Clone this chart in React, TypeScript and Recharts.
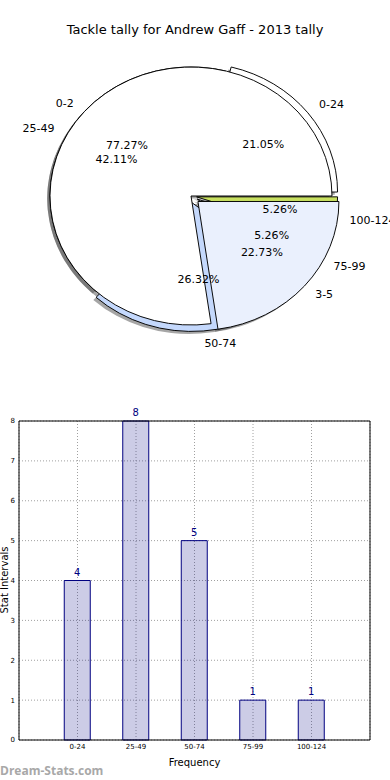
import React from 'react';
import {
  PieChart, Pie, Cell, Sector,
  BarChart, Bar, XAxis, YAxis, CartesianGrid, ReferenceLine, LabelList,
} from 'recharts';

// values
const title = 'Tackle tally for Andrew Gaff - 2013 tally';
const bins = ['0-24', '25-49', '50-74', '75-99', '100-124'];
const binCounts = [4, 8, 5, 1, 1];
const tallyGroups = ['0-2', '3-5'];
const tallyCounts = [17, 5];
const yTicks = [0, 1, 2, 3, 4, 5, 6, 7, 8];

const font = '"DejaVu Sans", sans-serif';
const RAD = Math.PI / 180;
const SY = 129 / 141; // the pie is a bit squashed vertically

const binColors = ['#ffffff', '#ffffff', '#c4d8fc', '#eaf0fd', '#c8e060'];
const tallyColors = ['#ffffff', '#eaf0fd'];
// how far each wedge is pulled out, as a share of the radius
const explode: Record<string, number> = {
  '0-24': 0.05, '25-49': 0, '50-74': 0.05, '75-99': 0.05, '100-124': 0.04,
  '0-2': 0, '3-5': 0.065,
};

const binData = bins.map((name, i) => ({ name, value: binCounts[i] }));
const tallyData = tallyGroups.map((name, i) => ({ name, value: tallyCounts[i] }));
const barData = bins.map((label, i) => ({ x: i + 1, label, value: binCounts[i] }));

const shift = (name: string, mid: number, r: number) => {
  const d = (explode[name] ?? 0) * r;
  return { ox: d * Math.cos(mid * RAD), oy: -d * Math.sin(mid * RAD) * SY };
};

const wedge = (shadow: boolean) => (props: any) => {
  const { cx, cy, outerRadius, startAngle, endAngle, midAngle, fill } = props;
  const name = props.payload?.name ?? props.name;
  const { ox, oy } = shift(name, midAngle, outerRadius);
  const dx = ox + (shadow ? -2.8 : 0);
  const dy = oy + (shadow ? 2.6 : 0);
  return (
    <g transform={`translate(${cx + dx} ${cy + dy}) scale(1 ${SY}) translate(${-cx} ${-cy})`}>
      <Sector
        cx={cx} cy={cy} innerRadius={0} outerRadius={outerRadius}
        startAngle={startAngle} endAngle={endAngle}
        fill={shadow ? '#4d4d4d' : fill}
        fillOpacity={shadow ? 0.5 : 1}
        stroke={shadow ? 'none' : '#000'}
        strokeWidth={shadow ? 0 : 1}
      />
    </g>
  );
};

const pieLabel = (props: any) => {
  const { cx, cy, midAngle, outerRadius, percent } = props;
  const name = props.payload?.name ?? props.name;
  const { ox, oy } = shift(name, midAngle, outerRadius);
  const c = Math.cos(midAngle * RAD);
  const s = Math.sin(midAngle * RAD);
  const lx = cx + ox + 1.1 * outerRadius * c;
  const ly = cy + oy - 1.1 * outerRadius * s * SY;
  const px = cx + ox + 0.6 * outerRadius * c;
  const py = cy + oy - 0.6 * outerRadius * s * SY;
  return (
    <g fontFamily={font} fontSize={11} fill="#000">
      <text x={lx} y={ly} textAnchor={c > 0 ? 'start' : 'end'} dominantBaseline="central">{name}</text>
      <text x={px} y={py} textAnchor="middle" dominantBaseline="central">{(percent * 100).toFixed(2)}%</text>
    </g>
  );
};

const pieProps = {
  cx: 191, cy: 196, outerRadius: 141, startAngle: 0, endAngle: 360,
  dataKey: 'value', nameKey: 'name', isAnimationActive: false, labelLine: false,
};

const App = () => {
  return (
    <div style={{ position: 'absolute', left: 0, top: 0, width: 390, height: 780, background: '#fff', fontFamily: font }}>
      <div style={{ position: 'absolute', top: 22, width: 390, textAlign: 'center', fontSize: 13, lineHeight: '16px', color: '#000' }}>
        {title}
      </div>
      <div style={{ position: 'absolute', top: 0, left: 0 }}>
        <PieChart width={390} height={370} margin={{ top: 0, right: 0, bottom: 0, left: 0 }}>
          <Pie {...pieProps} data={binData} shape={wedge(true)} label={false} />
          <Pie {...pieProps} data={tallyData} shape={wedge(true)} label={false} />
          <Pie {...pieProps} data={binData} shape={wedge(false)} label={false}>
            {binData.map((d, i) => <Cell key={d.name} fill={binColors[i]} />)}
          </Pie>
          <Pie {...pieProps} data={tallyData} shape={wedge(false)} label={false}>
            {tallyData.map((d, i) => <Cell key={d.name} fill={tallyColors[i]} />)}
          </Pie>
          <Pie {...pieProps} data={binData} shape={() => <g />} label={pieLabel} />
          <Pie {...pieProps} data={tallyData} shape={() => <g />} label={pieLabel} />
        </PieChart>
      </div>
      <div style={{ position: 'absolute', top: 400, left: 0 }}>
        <BarChart width={390} height={380} data={barData} margin={{ top: 21, right: 20, bottom: 12, left: 0 }}>
          <CartesianGrid stroke="#a0a0a0" strokeDasharray="1 2" />
          <XAxis
            dataKey="x" type="number" domain={[0, 6]} ticks={[1, 2, 3, 4, 5]} interval={0}
            tickFormatter={(v: number) => bins[v - 1]}
            tick={{ fontSize: 7, fill: '#000', fontFamily: font }}
            tickLine={false} tickSize={0} tickMargin={4} height={28}
            axisLine={{ stroke: '#000' }}
            label={{ value: 'Frequency', position: 'insideBottom', offset: 2, fontSize: 10, fill: '#000', fontFamily: font }}
          />
          <YAxis
            domain={[0, 8]} ticks={yTicks} width={19}
            tick={{ fontSize: 7, fill: '#000', fontFamily: font }}
            tickLine={false} tickSize={0} tickMargin={4}
            axisLine={{ stroke: '#000' }}
            label={{
              content: () => (
                <text x={8} y={180} transform="rotate(-90 8 180)" textAnchor="middle" fontSize={10} fontFamily={font} fill="#000">
                  Stat Intervals
                </text>
              ),
            }}
          />
          <ReferenceLine y={8} stroke="#000" />
          <ReferenceLine x={6} stroke="#000" />
          <Bar dataKey="value" barSize={26} fill="#000080" fillOpacity={0.2} stroke="#000080" isAnimationActive={false}>
            <LabelList dataKey="value" position="top" offset={5} fill="#000080" fontSize={10} fontFamily={font} />
          </Bar>
        </BarChart>
      </div>
      <div style={{ position: 'absolute', top: 762, left: 0, fontSize: 12, fontWeight: 'bold', color: '#a8a8a8', fontFamily: '"Open Sans", sans-serif' }}>
        Dream-Stats.com
      </div>
    </div>
  );
};

export default App;
